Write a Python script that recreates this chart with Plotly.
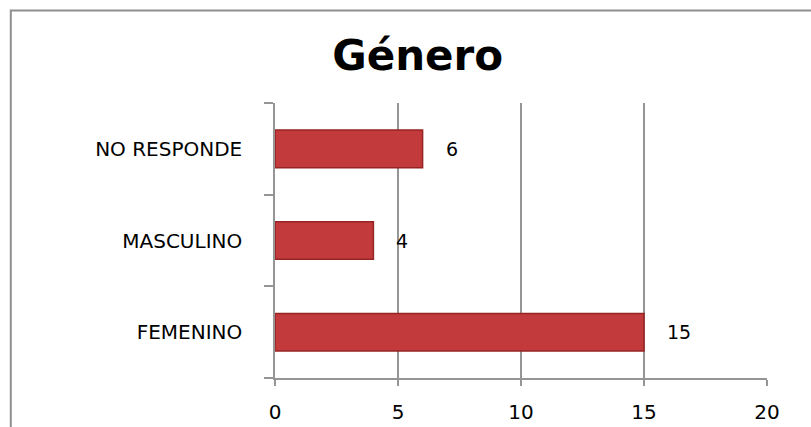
import plotly.graph_objects as go

categories = ["FEMENINO", "MASCULINO", "NO RESPONDE"]
values = [15, 4, 6]
x_ticks = [0, 5, 10, 15, 20]
title_text = "Género"

bar_color = "#C23A3B"
bar_edge = "#962424"
grid_color = "#959595"

fig = go.Figure()
fig.add_trace(go.Bar(
    x=values, y=categories, orientation="h",
    width=0.41,
    marker=dict(color=bar_color, line=dict(color=bar_edge, width=1.5)),
    hoverinfo="skip",
))

for v, c in zip(values, categories):
    fig.add_annotation(x=v, y=c, text=str(v), showarrow=False,
                       xanchor="left", xshift=21,
                       font=dict(family="DejaVu Sans", size=19, color="black"))

# outer chart border
fig.add_shape(type="rect", xref="paper", yref="paper",
              x0=-0.537, x1=1.3, y0=-0.4, y1=1.336,
              line=dict(color="#8f8f8f", width=2), fillcolor="rgba(0,0,0,0)",
              layer="below")

fig.update_layout(
    width=811, height=427,
    margin=dict(l=275, r=44, t=103, b=49, autoexpand=False),
    paper_bgcolor="white", plot_bgcolor="white",
    showlegend=False,
    title=dict(text="<b>" + title_text + "</b>", x=0.515, xanchor="center",
               y=0.87, yanchor="middle",
               font=dict(family="DejaVu Sans", size=42, color="black")),
    xaxis=dict(range=[0, 20], tickvals=x_ticks, ticktext=[str(t) for t in x_ticks],
               automargin=False,
               showgrid=True, gridcolor=grid_color, gridwidth=1.5,
               showline=True, linecolor=grid_color, linewidth=1.5,
               ticks="outside", ticklen=6, tickcolor=grid_color, tickwidth=1.5,
               ticklabelstandoff=9, zeroline=False,
               tickfont=dict(family="DejaVu Sans", size=20, color="black")),
    yaxis=dict(type="category", categoryorder="array", categoryarray=categories,
               range=[-0.5, 2.5], tickson="boundaries", automargin=False,
               showgrid=False, showline=True, linecolor=grid_color, linewidth=1.5,
               ticks="outside", ticklen=9, tickcolor=grid_color, tickwidth=1.5,
               ticklabelstandoff=27,
               tickfont=dict(family="DejaVu Sans", size=20, color="black")),
)

fig.write_html("out.html")
